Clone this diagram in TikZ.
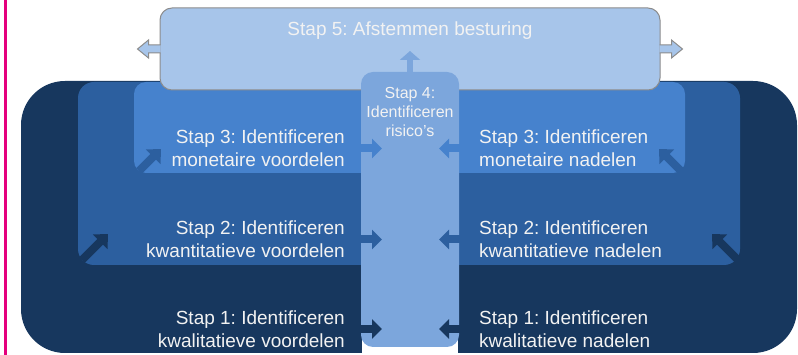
\documentclass[tikz,border=0pt]{standalone}
\usepackage{fontspec}
\setmainfont{Liberation Sans}
\usetikzlibrary{arrows.meta,calc}
\frenchspacing

\definecolor{stapa}{HTML}{17375E}
\definecolor{stapb}{HTML}{2C5F9F}
\definecolor{stapc}{HTML}{4682CD}
\definecolor{stapd}{HTML}{7CA6DC}
\definecolor{stape}{HTML}{A7C5EA}
\definecolor{rand}{HTML}{E5007D}
\definecolor{grijs}{HTML}{8C8C8C}
\definecolor{tekst}{HTML}{F2F2F2}

\tikzset{
  staptekst/.style={text=tekst, inner sep=0pt, font=\fontsize{19}{23}\selectfont},
  pijl/.style={line width=8pt, -{Triangle[width=19pt,length=10pt]}},
  hoekpijl/.style={line width=8pt, -{Triangle[width=20pt,length=11pt]}},
}

\begin{document}
\begin{tikzpicture}[x=1pt,y=-1pt]
\useasboundingbox (0,0) rectangle (798,355);

% Rand
\fill[rand] (4,0) rectangle (7,355);

% Stap 1
\fill[stapa, rounded corners=44pt] (21,81) rectangle (375,353);
\fill[stapa] (320,300) rectangle (362,353);
\fill[stapa, rounded corners=44pt] (445,81) rectangle (797,353);
\fill[stapa] (458,300) rectangle (490,353);

% Stap 2
\fill[stapb, rounded corners=16pt] (78,82) rectangle (400,265);
\fill[stapb, rounded corners=16pt] (420,82) rectangle (740,265);

% Stap 3
\fill[stapc, rounded corners=12pt] (134,82) rectangle (400,173);
\fill[stapc, rounded corners=12pt] (420,82) rectangle (685,173);

% Hoeken
\coordinate (hoek3l) at (161,149);
\coordinate (hoek2l) at (108,234);
\coordinate (hoek3r) at (659,149);
\coordinate (hoek2r) at (712,234);
\draw[hoekpijl, stapb] (hoek3l) ++(-22,22) -- (hoek3l);
\draw[hoekpijl, stapa] (hoek2l) ++(-26,26) -- (hoek2l);
\draw[hoekpijl, stapb] (hoek3r) ++(22,22) -- (hoek3r);
\draw[hoekpijl, stapa] (hoek2r) ++(26,26) -- (hoek2r);

% Stap 5
\node[fill=stape, draw=grijs, line width=1pt, rounded corners=12pt,
      minimum width=500pt, minimum height=82pt, outer sep=0pt] (box5) at (410,49) {};
\node[staptekst] (stap5) at (410,31) {Stap 5: Afstemmen besturing};
\path[fill=stape, draw=grijs, line width=1pt] (box5.west) ++(0.5,-4) -- ++(-12,0) -- ++(0,-5)
  -- ++(-11,9) -- ++(11,9) -- ++(0,-5) -- ++(12,0);
\path[fill=stape, draw=grijs, line width=1pt] (box5.east) ++(-0.5,-4) -- ++(12,0) -- ++(0,-5)
  -- ++(11,9) -- ++(-11,9) -- ++(0,-5) -- ++(-12,0);

% Stap 4
\node[fill=stapd, rounded corners=12pt, minimum width=98pt, minimum height=275pt,
      inner sep=0pt, outer sep=0pt] (kolom) at (410,209.5) {};
\node[staptekst, font=\fontsize{16}{19}\selectfont, align=center] (stap4) at (410,112)
  {Stap 4:\\Identificeren\\risico's};
\draw[stapd, line width=6pt, -{Triangle[width=20pt,length=9pt]}] (kolom.north) -- ++(0,-21);

% Teksten
\node[staptekst, align=right, anchor=east] (links3) at (345,148.5) {Stap 3: Identificeren\\monetaire voordelen};
\node[staptekst, align=right, anchor=east] (links2) at (345,239.5) {Stap 2: Identificeren\\kwantitatieve voordelen};
\node[staptekst, align=right, anchor=east] (links1) at (345,329) {Stap 1: Identificeren\\kwalitatieve voordelen};
\node[staptekst, align=left, anchor=west] (rechts3) at (479,148.5) {Stap 3: Identificeren\\monetaire nadelen};
\node[staptekst, align=left, anchor=west] (rechts2) at (479,239.5) {Stap 2: Identificeren\\kwantitatieve nadelen};
\node[staptekst, align=left, anchor=west] (rechts1) at (479,329) {Stap 1: Identificeren\\kwalitatieve nadelen};

% Pijlen naar stap 4
\foreach \s/\c in {3/stapc, 2/stapb, 1/stapa}
{
    \draw[pijl, \c] (links\s.east) -- ($(kolom.west |- links\s.east)+(21,0)$);
    \draw[pijl, \c] (rechts\s.west) -- ($(kolom.east |- rechts\s.west)+(-20,0)$);
}

\end{tikzpicture}
\end{document}
